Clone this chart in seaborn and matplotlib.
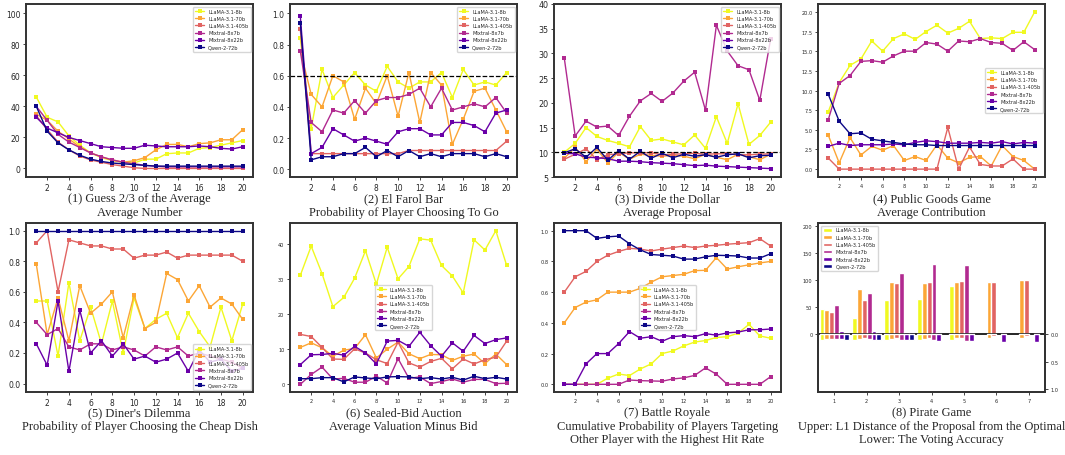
"""Eight game-theory panels: per-round behaviour of six LLMs."""

import matplotlib

matplotlib.use("Agg")
import matplotlib.pyplot as plt
import numpy as np
import pandas as pd
import seaborn as sns

MODELS = ["LLaMA-3.1-8b", "LLaMA-3.1-70b", "LLaMA-3.1-405b",
          "Mixtral-8x7b", "Mixtral-8x22b", "Qwen-2-72b"]
ROUNDS = list(range(1, 21))

guess_avg = {
    "LLaMA-3.1-8b": [46, 33, 30, 21, 15, 10, 7, 5, 4, 3.5, 6, 6, 9.5, 10, 10, 13, 13.5, 15, 16.5, 18],
    "LLaMA-3.1-70b": [35, 31, 24, 19, 14, 10, 7.5, 5.5, 4, 5, 7, 12, 15.5, 15.5, 14, 16, 16.5, 18.5, 18.5, 25],
    "LLaMA-3.1-405b": [34, 25, 17, 12, 8, 5.5, 4, 2.5, 1.5, 0.5, 0, 0, 0, 0, 0, 0, 0, 0, 0, 0],
    "Mixtral-8x7b": [40, 31, 22, 17, 13.5, 10, 7.5, 5.5, 4, 3, 2, 1.5, 1, 1, 1, 1, 1, 1, 1, 1],
    "Mixtral-8x22b": [33, 26, 23, 20, 18, 16, 14, 13.5, 13, 13, 15, 14.5, 14, 14, 14, 14.5, 14, 13, 12.5, 14],
    "Qwen-2-72b": [40, 24, 16.5, 12, 8.5, 6, 4.5, 3.5, 3, 2.5, 2, 1.5, 1.5, 1.5, 1.5, 1.5, 1.5, 1.5, 1.5, 1.5],
}

el_farol = {
    "LLaMA-3.1-8b": [0.84, 0.26, 0.64, 0.46, 0.54, 0.62, 0.54, 0.50, 0.66, 0.56, 0.52, 0.56, 0.56, 0.62, 0.46, 0.64, 0.54, 0.56, 0.54, 0.62],
    "LLaMA-3.1-70b": [0.76, 0.48, 0.40, 0.60, 0.56, 0.32, 0.52, 0.42, 0.60, 0.34, 0.62, 0.30, 0.62, 0.54, 0.16, 0.32, 0.50, 0.52, 0.38, 0.24],
    "LLaMA-3.1-405b": [0.90, 0.10, 0.10, 0.10, 0.10, 0.10, 0.10, 0.10, 0.10, 0.10, 0.12, 0.12, 0.12, 0.12, 0.12, 0.12, 0.12, 0.12, 0.12, 0.18],
    "Mixtral-8x7b": [0.76, 0.30, 0.24, 0.38, 0.36, 0.44, 0.36, 0.44, 0.46, 0.46, 0.48, 0.52, 0.40, 0.52, 0.38, 0.40, 0.42, 0.40, 0.46, 0.36],
    "Mixtral-8x22b": [0.98, 0.10, 0.14, 0.26, 0.22, 0.18, 0.20, 0.18, 0.16, 0.24, 0.26, 0.26, 0.22, 0.22, 0.30, 0.30, 0.28, 0.24, 0.36, 0.38],
    "Qwen-2-72b": [0.94, 0.06, 0.08, 0.08, 0.10, 0.10, 0.14, 0.08, 0.12, 0.08, 0.12, 0.08, 0.10, 0.08, 0.10, 0.10, 0.10, 0.08, 0.10, 0.08],
}

divide_dollar = {
    "LLaMA-3.1-8b": [10, 11.8, 15, 13.2, 12.4, 11.8, 11.1, 15.2, 12.4, 12.7, 12.1, 11.5, 13.5, 10.8, 17.2, 11.8, 19.8, 11.6, 13.4, 16.1],
    "LLaMA-3.1-70b": [8.8, 11, 8.1, 10.6, 7.9, 10, 8.6, 9.6, 9.4, 9.2, 9.4, 9.2, 8.7, 9.6, 9.0, 8.5, 9.6, 9.1, 8.5, 9.6],
    "LLaMA-3.1-405b": [8.6, 9.6, 10.7, 8.5, 9.5, 9.7, 9.9, 9.9, 9.9, 9.5, 9.6, 9.7, 9.8, 9.6, 9.7, 9.7, 9.5, 9.5, 9.6, 9.7],
    "Mixtral-8x7b": [29, 13.3, 16.3, 15.1, 15.3, 13.4, 17.3, 20.4, 21.9, 20.3, 22.0, 24.4, 26.2, 18.5, 35.7, 30.5, 27.5, 26.7, 20.5, 33],
    "Mixtral-8x22b": [9.8, 9.7, 9.0, 8.9, 8.7, 8.2, 8.2, 8.1, 7.9, 7.8, 7.7, 7.5, 7.3, 7.4, 7.2, 7.1, 7.0, 6.9, 6.8, 6.7],
    "Qwen-2-72b": [9.9, 10.7, 9.0, 11.0, 8.4, 10.3, 8.6, 10.2, 8.8, 9.8, 8.9, 9.6, 9.2, 9.5, 9.0, 9.5, 9.7, 8.9, 9.3, 9.4],
}

public_goods = {
    "LLaMA-3.1-8b": [7.3, 11.0, 13.2, 14.0, 16.3, 15.0, 16.6, 17.2, 16.5, 17.5, 18.3, 17.3, 17.9, 18.8, 16.6, 16.7, 16.6, 17.4, 17.4, 20.0],
    "LLaMA-3.1-70b": [4.3, 0.8, 4.0, 1.8, 2.9, 2.4, 3.0, 1.1, 1.6, 1.1, 3.1, 1.4, 0.8, 1.5, 1.6, 0.4, 3.0, 1.6, 1.1, 0.0],
    "LLaMA-3.1-405b": [1.4, 0, 0, 0, 0, 0, 0, 0, 0, 0, 0, 5.3, 0, 2.8, 0.6, 0.4, 0.4, 1.3, 0, 0],
    "Mixtral-8x7b": [6.3, 10.9, 11.9, 13.7, 13.8, 13.6, 14.4, 15.0, 15.0, 16.1, 15.9, 15.0, 16.3, 16.2, 16.6, 16.1, 16.0, 15.1, 16.2, 15.2],
    "Mixtral-8x22b": [2.9, 3.3, 3.0, 3.1, 3.1, 3.1, 3.2, 3.1, 3.4, 3.6, 3.5, 3.3, 3.3, 3.3, 3.4, 3.3, 3.5, 3.2, 3.4, 3.3],
    "Qwen-2-72b": [9.5, 6.1, 4.5, 4.6, 3.8, 3.6, 3.4, 3.2, 3.1, 3.1, 3.0, 3.0, 3.0, 3.0, 3.0, 3.0, 3.0, 3.0, 3.0, 3.0],
}

diners = {
    "LLaMA-3.1-8b": [0.54, 0.54, 0.18, 0.66, 0.28, 0.50, 0.26, 0.54, 0.20, 0.56, 0.36, 0.42, 0.46, 0.30, 0.46, 0.34, 0.24, 0.50, 0.28, 0.52],
    "LLaMA-3.1-70b": [0.78, 0.32, 0.56, 0.28, 0.64, 0.46, 0.52, 0.60, 0.30, 0.58, 0.36, 0.40, 0.72, 0.68, 0.54, 0.64, 0.50, 0.56, 0.52, 0.42],
    "LLaMA-3.1-405b": [0.92, 1.0, 0.60, 0.94, 0.92, 0.90, 0.90, 0.88, 0.88, 0.82, 0.84, 0.84, 0.86, 0.82, 0.84, 0.84, 0.84, 0.84, 0.84, 0.80],
    "Mixtral-8x7b": [0.40, 0.32, 0.36, 0.24, 0.22, 0.26, 0.26, 0.22, 0.24, 0.22, 0.18, 0.24, 0.22, 0.24, 0.18, 0.20, 0.18, 0.16, 0.14, 0.10],
    "Mixtral-8x22b": [0.26, 0.12, 0.54, 0.08, 0.48, 0.20, 0.28, 0.18, 0.26, 0.16, 0.18, 0.14, 0.16, 0.20, 0.08, 0.22, 0.14, 0.16, 0.08, 0.10],
    "Qwen-2-72b": [1.0] * 20,
}

sealed_bid = {
    "LLaMA-3.1-8b": [31.0, 39.3, 31.5, 22.1, 24.7, 30.2, 38.0, 28.5, 39.0, 30.0, 33.5, 41.4, 41.0, 33.8, 30.8, 26.0, 41.1, 38.2, 43.7, 33.8],
    "LLaMA-3.1-70b": [10.5, 11.8, 10.4, 8.0, 9.7, 10.2, 14.1, 7.5, 10.0, 12.0, 8.7, 7.3, 8.5, 8.4, 6.8, 8.0, 8.6, 5.9, 8.6, 5.6],
    "LLaMA-3.1-405b": [14.2, 13.6, 10.5, 7.2, 7.1, 10.1, 8.9, 7.0, 5.9, 12.0, 6.1, 4.9, 6.5, 7.4, 4.4, 7.2, 5.8, 7.0, 7.7, 12.3],
    "Mixtral-8x7b": [0.0, 2.8, 4.9, 1.5, 1.7, 0.6, 0.6, 2.3, 0.4, 7.3, 1.7, 2.1, 0.2, 0.8, 1.5, 0.6, 1.4, 1.4, 0.2, 0.3],
    "Mixtral-8x22b": [5.6, 8.4, 8.5, 8.8, 8.3, 10.8, 8.9, 5.8, 12.3, 12.5, 10.8, 14.8, 11.0, 8.0, 11.8, 9.4, 13.9, 11.6, 12.7, 13.2],
    "Qwen-2-72b": [1.6, 1.6, 1.9, 1.9, 0.7, 2.1, 1.8, 1.6, 2.1, 2.2, 2.1, 1.6, 1.9, 1.5, 2.0, 1.2, 2.3, 1.6, 2.0, 1.5],
}

battle_royale = {
    "LLaMA-3.1-8b": [0, 0, 0, 0, 0.04, 0.067, 0.057, 0.10, 0.133, 0.20, 0.217, 0.25, 0.275, 0.285, 0.305, 0.31, 0.333, 0.39, 0.315, 0.30],
    "LLaMA-3.1-70b": [0.40, 0.50, 0.535, 0.55, 0.60, 0.60, 0.60, 0.625, 0.665, 0.70, 0.708, 0.716, 0.74, 0.742, 0.825, 0.75, 0.765, 0.778, 0.79, 0.80],
    "LLaMA-3.1-405b": [0.60, 0.70, 0.735, 0.80, 0.84, 0.865, 0.885, 0.88, 0.868, 0.88, 0.89, 0.90, 0.89, 0.90, 0.905, 0.912, 0.917, 0.922, 0.948, 0.90],
    "Mixtral-8x7b": [0, 0, 0, 0, 0, 0, 0.028, 0.024, 0.022, 0.02, 0.035, 0.042, 0.058, 0.107, 0.066, 0, 0, 0, 0, 0.05],
    "Mixtral-8x22b": [0.0, 0.0, 0.133, 0.20, 0.20, 0.265, 0.343, 0.30, 0.31, 0.28, 0.31, 0.317, 0.31, 0.33, 0.32, 0.335, 0.34, 0.355, 0.355, 0.36],
    "Qwen-2-72b": [1.0, 1.0, 1.0, 0.95, 0.96, 0.965, 0.915, 0.875, 0.845, 0.84, 0.835, 0.815, 0.815, 0.83, 0.84, 0.838, 0.835, 0.822, 0.822, 0.85],
}

# pirate game: 7 proposers, NaN where the model never got to propose
PIRATE_ROUNDS = [1, 2, 3, 4, 5, 6, 7]
nan = np.nan
pirate_l1 = {
    "LLaMA-3.1-8b": [46, 30, 63, 66, 89, nan, nan],
    "LLaMA-3.1-70b": [44, 83, 96, 94, 96, 96, 100],
    "LLaMA-3.1-405b": [42, 63, 94, 96, 98, 96, 101],
    "Mixtral-8x7b": [54, 76, 113, 129, 127, nan, nan],
    "Mixtral-8x22b": [7, 6, 4, 4, 4, 4, 4],
    "Qwen-2-72b": [4, 4, 4, nan, nan, nan, nan],
}
pirate_vote = {
    "LLaMA-3.1-8b": [0.10, 0.10, 0.10, 0.10, 0.10, nan, nan],
    "LLaMA-3.1-70b": [0.08, 0.08, 0.08, 0.08, 0.07, 0.07, 0.07],
    "LLaMA-3.1-405b": [0.08, 0.07, 0.06, 0.07, 0.06, 0.03, 0.03],
    "Mixtral-8x7b": [0.09, 0.08, 0.10, 0.10, 0.12, nan, nan],
    "Mixtral-8x22b": [0.09, 0.10, 0.10, 0.12, 0.12, 0.14, 0.14],
    "Qwen-2-72b": [0.10, 0.10, 0.10, nan, nan, nan, nan],
}

TITLES = [
    "(1) Guess 2/3 of the Average\nAverage Number",
    "(2) El Farol Bar\nProbability of Player Choosing To Go",
    "(3) Divide the Dollar\nAverage Proposal",
    "(4) Public Goods Game\nAverage Contribution",
    "(5) Diner's Dilemma\nProbability of Player Choosing the Cheap Dish",
    "(6) Sealed-Bid Auction\nAverage Valuation Minus Bid",
    "(7) Battle Royale\nCumulative Probability of Players Targeting\nOther Player with the Highest Hit Rate",
    "(8) Pirate Game\nUpper: L1 Distance of the Proposal from the Optimal\nLower: The Voting Accuracy",
]

sns.set_style("ticks")
plt.rcParams["font.family"] = ["DejaVu Sans"]

cmap = plt.get_cmap("plasma")
palette = dict(zip(MODELS, [cmap(v) for v in [1.0, 0.8, 0.6, 0.4, 0.2, 0.0]]))


def to_long(table, xs, xname="round"):
    rows = []
    for model in MODELS:
        for x, v in zip(xs, table[model]):
            rows.append({xname: x, "value": v, "model": model})
    return pd.DataFrame(rows)


def style_axes(ax, tick_size):
    for side in ax.spines.values():
        side.set_linewidth(1.4)
        side.set_color("#333333")
    ax.tick_params(labelsize=tick_size, length=2.5, width=0.6, pad=1.5)
    ax.set_xlabel("")
    ax.set_ylabel("")


def line_panel(ax, table, tick_size, legend_loc):
    df = to_long(table, ROUNDS)
    sns.lineplot(data=df, x="round", y="value", hue="model", palette=palette,
                 marker="s", markersize=2.2, markeredgewidth=0, linewidth=1.0,
                 ax=ax)
    ax.set_xticks(range(2, 21, 2))
    ax.legend(loc=legend_loc, fontsize=3.6, labelspacing=0.45,
              handlelength=1.8, borderpad=0.4, framealpha=0.8)
    style_axes(ax, tick_size)


fig = plt.figure(figsize=(10.65, 4.56), dpi=100)
lefts = [26, 290, 554, 818]
axes = []
for top, bottom in [(5, 178), (224, 393)]:
    for left in lefts:
        axes.append(fig.add_axes([left / 1065, 1 - bottom / 456,
                                  227 / 1065, (bottom - top) / 456]))

line_panel(axes[0], guess_avg, 5.5, "upper right")
axes[0].set_ylim(-5.5, 106)
axes[0].set_yticks(range(0, 101, 20))

line_panel(axes[1], el_farol, 5.5, "upper right")
axes[1].axhline(0.6, color="black", linestyle="--", linewidth=0.9)
axes[1].set_ylim(-0.05, 1.06)

line_panel(axes[2], divide_dollar, 5.8, "upper right")
axes[2].axhline(10, color="black", linestyle="--", linewidth=0.9)
axes[2].set_ylim(5, 40)

line_panel(axes[3], public_goods, 3.6, "center right")
axes[3].set_yticks(np.arange(0, 20.1, 2.5))
axes[3].yaxis.set_major_formatter(matplotlib.ticker.FormatStrFormatter("%.1f"))

line_panel(axes[4], diners, 5.5, "lower right")
axes[4].set_ylim(-0.055, 1.05)

line_panel(axes[5], sealed_bid, 3.6, "center")
line_panel(axes[6], battle_royale, 3.6, "center")

# pirate game: upper bars on the left axis, voting accuracy hanging below
ax8 = axes[7]
ax8r = ax8.twinx()
up = to_long(pirate_l1, PIRATE_ROUNDS, "proposer")
low = to_long(pirate_vote, PIRATE_ROUNDS, "proposer")
sns.barplot(data=up, x="proposer", y="value", hue="model", hue_order=MODELS,
            palette=palette, width=0.9, errorbar=None, saturation=1, ax=ax8)
sns.barplot(data=low, x="proposer", y="value", hue="model", hue_order=MODELS,
            palette=palette, width=0.9, errorbar=None, saturation=1,
            legend=False, ax=ax8r)
ax8.axhline(0, color="black", linewidth=1.2, zorder=5)
ax8.set_ylim(-106, 205)
ax8.set_yticks([0, 50, 100, 150, 200])
ax8r.set_ylim(1.05, -2.02)
ax8r.set_yticks([0.0, 0.5, 1.0])
ax8r.yaxis.set_major_formatter(matplotlib.ticker.FormatStrFormatter("%.1f"))
ax8.legend(loc="upper left", fontsize=3.6, labelspacing=0.45,
           handlelength=1.8, borderpad=0.4, framealpha=0.8)
style_axes(ax8, 3.6)
style_axes(ax8r, 3.6)

for i, (ax, title) in enumerate(zip(axes, TITLES)):
    offset = -0.088 if i < 4 else -0.082
    ax.text(0.5, offset, title, transform=ax.transAxes, ha="center", va="top",
            fontsize=9, family="Liberation Serif", linespacing=1.2)

fig.savefig("out.png", dpi=100)
